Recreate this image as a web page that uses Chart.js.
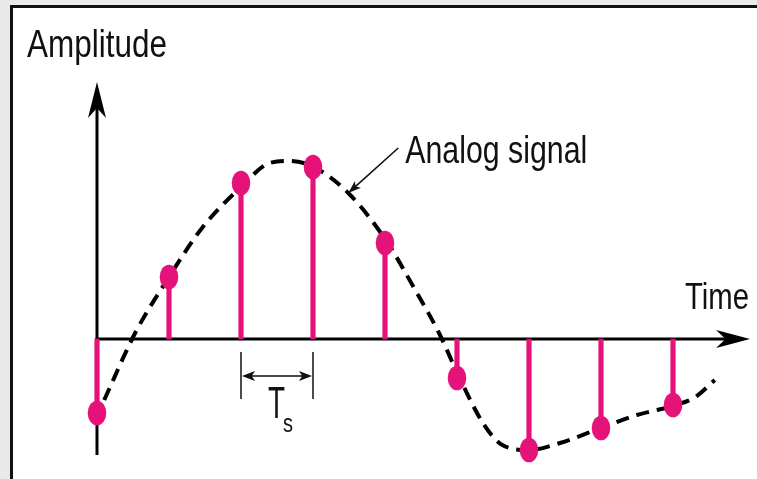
<!DOCTYPE html>
<html>
<head>
<meta charset="utf-8">
<script src="https://cdn.jsdelivr.net/npm/chart.js@4.4.1/dist/chart.umd.min.js"></script>
<style>
  html, body { margin: 0; padding: 0; background: #e9e9eb; width: 757px; height: 479px; overflow: hidden; }
  #frame { position: absolute; left: 10px; top: 5px; width: 760px; height: 471px;
           background: #ffffff; border-left: 3px solid #111; border-top: 3px solid #111;
           border-bottom: 1px solid #dcdcdc; }
  #c { position: absolute; left: 0; top: 0; }
</style>
</head>
<body>
<div id="frame"></div>
<canvas id="c" width="757" height="479"></canvas>
<script>
// ---- data (sample index vs amplitude) ----
const sampleTimes = [0, 1, 2, 3, 4, 5, 6, 7, 8];
const sampleValues = [-7.4, 6.2, 15.6, 17.2, 9.6, -3.9, -11.1, -8.9, -6.6];

const analogTimes = [0.10, 0.53, 1.00, 1.47, 2.00, 2.40, 2.68, 3.01, 3.49, 4.01, 4.42, 4.75, 5.03, 5.36, 5.63, 6.00, 6.43, 7.03, 7.50, 8.04, 8.31, 8.58];
const analogValues = [-6.1, 0.6, 6.2, 11.2, 15.2, 17.6, 17.8, 17.2, 14.6, 9.9, 4.9, 0.6, -3.8, -8.4, -10.6, -11.1, -10.4, -8.8, -7.6, -6.6, -5.8, -4.1];

const yAxisLabel = 'Amplitude';
const xAxisLabel = 'Time';
const curveLabel = 'Analog signal';
const periodLabel = ['T', 's'];

const PINK = 'rgb(229, 18, 122)';
const FONT = '"Liberation Sans Narrow", "Liberation Sans", Arial, sans-serif';

// ellipse marker
const dot = document.createElement('canvas');
dot.width = 20; dot.height = 26;
(function () {
  const g = dot.getContext('2d');
  g.fillStyle = PINK;
  g.beginPath();
  g.ellipse(10, 13, 9.3, 12.3, 0, 0, Math.PI * 2);
  g.fill();
})();

function arrowHead(ctx, tx, ty, dx, dy, len, half, notch) {
  const px = -dy, py = dx;
  const bx = tx - dx * len, by = ty - dy * len;
  ctx.beginPath();
  ctx.moveTo(tx, ty);
  ctx.lineTo(bx + px * half, by + py * half);
  ctx.lineTo(tx - dx * len * notch, ty - dy * len * notch);
  ctx.lineTo(bx - px * half, by - py * half);
  ctx.closePath();
  ctx.fill();
}

const overlay = {
  id: 'overlay',
  beforeDatasetsDraw(chart) {
    const ctx = chart.ctx, xs = chart.scales.x, ys = chart.scales.y;
    const x0 = xs.getPixelForValue(0), y0 = ys.getPixelForValue(0);
    const yTop = ys.getPixelForValue(25.7), yBot = ys.getPixelForValue(-11.6);
    const xTip = xs.getPixelForValue(9.07);
    ctx.save();
    ctx.strokeStyle = '#000'; ctx.fillStyle = '#000'; ctx.lineWidth = 3;
    ctx.beginPath(); ctx.moveTo(x0, yBot); ctx.lineTo(x0, yTop + 20); ctx.stroke();
    arrowHead(ctx, x0, yTop, 0, -1, 36, 9, 0.72);
    ctx.beginPath(); ctx.moveTo(x0 - 1.5, y0); ctx.lineTo(xTip - 20, y0); ctx.stroke();
    arrowHead(ctx, xTip, y0, 1, 0, 34, 9, 0.72);
    ctx.restore();
  },
  afterDatasetsDraw(chart) {
    const ctx = chart.ctx, xs = chart.scales.x, ys = chart.scales.y;
    const x0 = xs.getPixelForValue(0), y0 = ys.getPixelForValue(0);
    const yTop = ys.getPixelForValue(25.7);
    const xTip = xs.getPixelForValue(9.07);
    ctx.save();
    ctx.fillStyle = '#111'; ctx.strokeStyle = '#111';
    ctx.textBaseline = 'alphabetic';

    // axis titles
    ctx.font = '38px ' + FONT;
    ctx.textAlign = 'left';
    ctx.fillText(yAxisLabel, x0 - 70, yTop - 25, 140);
    ctx.font = '36px ' + FONT;
    ctx.textAlign = 'right';
    ctx.fillText(xAxisLabel, xTip - 1, y0 - 30, 64);

    // curve annotation
    const ax = xs.getPixelForValue(analogTimes[8]), ay = ys.getPixelForValue(analogValues[8]);
    const tx = ax + 50, ty = ay - 45;
    ctx.lineWidth = 1.6;
    const L = Math.hypot(tx - ax, ty - ay), ux = (ax - tx) / L, uy = (ay - ty) / L;
    ctx.beginPath(); ctx.moveTo(tx, ty); ctx.lineTo(ax - ux * 8, ay - uy * 8); ctx.stroke();
    arrowHead(ctx, ax, ay, ux, uy, 13, 4.5, 0.75);
    ctx.font = '39px ' + FONT;
    ctx.textAlign = 'left';
    ctx.fillText(curveLabel, tx + 7, ty + 15, 182);

    // sampling period marker
    const xa = xs.getPixelForValue(sampleTimes[2]), xb = xs.getPixelForValue(sampleTimes[3]);
    const t1 = ys.getPixelForValue(-1.3), t2 = ys.getPixelForValue(-6.0), tm = ys.getPixelForValue(-3.7);
    ctx.lineWidth = 1.5;
    ctx.beginPath();
    ctx.moveTo(xa, t1); ctx.lineTo(xa, t2);
    ctx.moveTo(xb, t1); ctx.lineTo(xb, t2);
    ctx.moveTo(xa + 8, tm); ctx.lineTo(xb - 8, tm);
    ctx.stroke();
    arrowHead(ctx, xa + 1, tm, -1, 0, 13, 5, 0.75);
    arrowHead(ctx, xb - 1, tm, 1, 0, 13, 5, 0.75);
    ctx.font = '44px ' + FONT;
    ctx.fillText(periodLabel[0], xa + 27, ys.getPixelForValue(-7.9), 17);
    ctx.font = '25px ' + FONT;
    ctx.fillText(periodLabel[1], xa + 42, ys.getPixelForValue(-9.3), 10);
    ctx.restore();
  }
};

new Chart(document.getElementById('c'), {
  type: 'line',
  data: {
    datasets: [
      {
        type: 'scatter',
        data: sampleTimes.map((t, i) => ({ x: t, y: sampleValues[i] })),
        pointStyle: dot, pointRadius: 10, pointHoverRadius: 10,
        showLine: false, clip: false, order: 0
      },
      {
        type: 'bar',
        data: sampleTimes.map((t, i) => ({ x: t, y: sampleValues[i] })),
        backgroundColor: PINK, borderWidth: 0, barThickness: 4.5,
        clip: false, order: 1
      },
      {
        type: 'line',
        data: analogTimes.map((t, i) => ({ x: t, y: analogValues[i] })),
        borderColor: '#000', borderWidth: 4, borderDash: [13, 8],
        borderCapStyle: 'butt', cubicInterpolationMode: 'monotone',
        pointRadius: 0, fill: false, clip: false, order: 2
      }
    ]
  },
  options: {
    responsive: false, animation: false, devicePixelRatio: 1,
    layout: { autoPadding: false, padding: { left: 61, right: 4.8, top: 79, bottom: 20 } },
    plugins: { legend: { display: false }, tooltip: { enabled: false } },
    scales: {
      x: { type: 'linear', min: -0.5, max: 9.1, offset: false, display: false },
      y: { type: 'linear', min: -12, max: 26, display: false }
    }
  },
  plugins: [overlay]
});
</script>
</body>
</html>
